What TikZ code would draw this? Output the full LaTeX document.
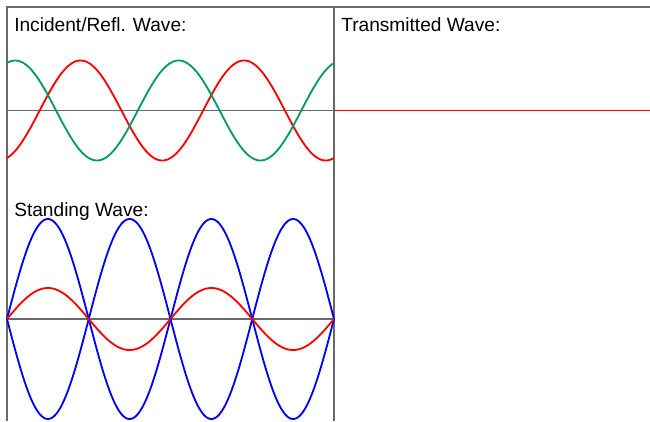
\documentclass[tikz,border=0pt]{standalone}
\usepackage{fontspec}
\setmainfont{Liberation Sans}
\usepackage{xcolor}
\usetikzlibrary{calc}
\definecolor{framegray}{RGB}{105,105,105}
\definecolor{incred}{RGB}{255,0,0}
\definecolor{reflgreen}{RGB}{0,155,105}
\definecolor{envblue}{RGB}{0,0,255}

\begin{document}
\begin{tikzpicture}[x=0.025cm,y=-0.025cm,
    frame/.style={color=framegray,line width=1.1pt},
    axisline/.style={color=framegray,line width=1.1pt},
    wave/.style={line width=1.3pt,line join=round},
    caption/.style={anchor=base west,inner sep=0pt,font=\fontsize{13.6}{16}\selectfont}]
            \useasboundingbox (0,0) rectangle (650,421);
            % Draw the frame and the divider
            \draw[frame] (7,421) -- (7,7) -- (650,7);
            \draw[frame] (334,7) -- (334,421);
            % Label the three panels
            \node[caption] (incident) at (14,31) {Incident/Refl. Wave:};
            \node[caption] (standing) at (14,216) {Standing Wave:};
            \node[caption] (transmitted) at (341,31) {Transmitted Wave:};
            % Axes
            \draw[axisline] (7,110.5) -- (334,110.5);
            \draw[axisline] (7,319) -- (334,319);
            \draw[wave,incred] (334,110.5) -- (650,110.5);
            % Incident (red) and reflected (green) waves
            \draw[wave,incred] plot[domain=7:334,samples=220] (\x,{110.5-50*cos(2.2018*(334-\x)+161.94)});
            \draw[wave,reflgreen] plot[domain=7:334,samples=220] (\x,{110.5+50*cos(2.2018*(334-\x)-161.94)});
            % Standing wave and its envelope
            \draw[wave,envblue] plot[domain=7:334,samples=220] (\x,{319+100*sin(2.2018*(334-\x))});
            \draw[wave,envblue] plot[domain=7:334,samples=220] (\x,{319-100*sin(2.2018*(334-\x))});
            \draw[wave,incred] plot[domain=7:334,samples=220] (\x,{319+31*sin(2.2018*(334-\x))});
          \end{tikzpicture}
\end{document}
